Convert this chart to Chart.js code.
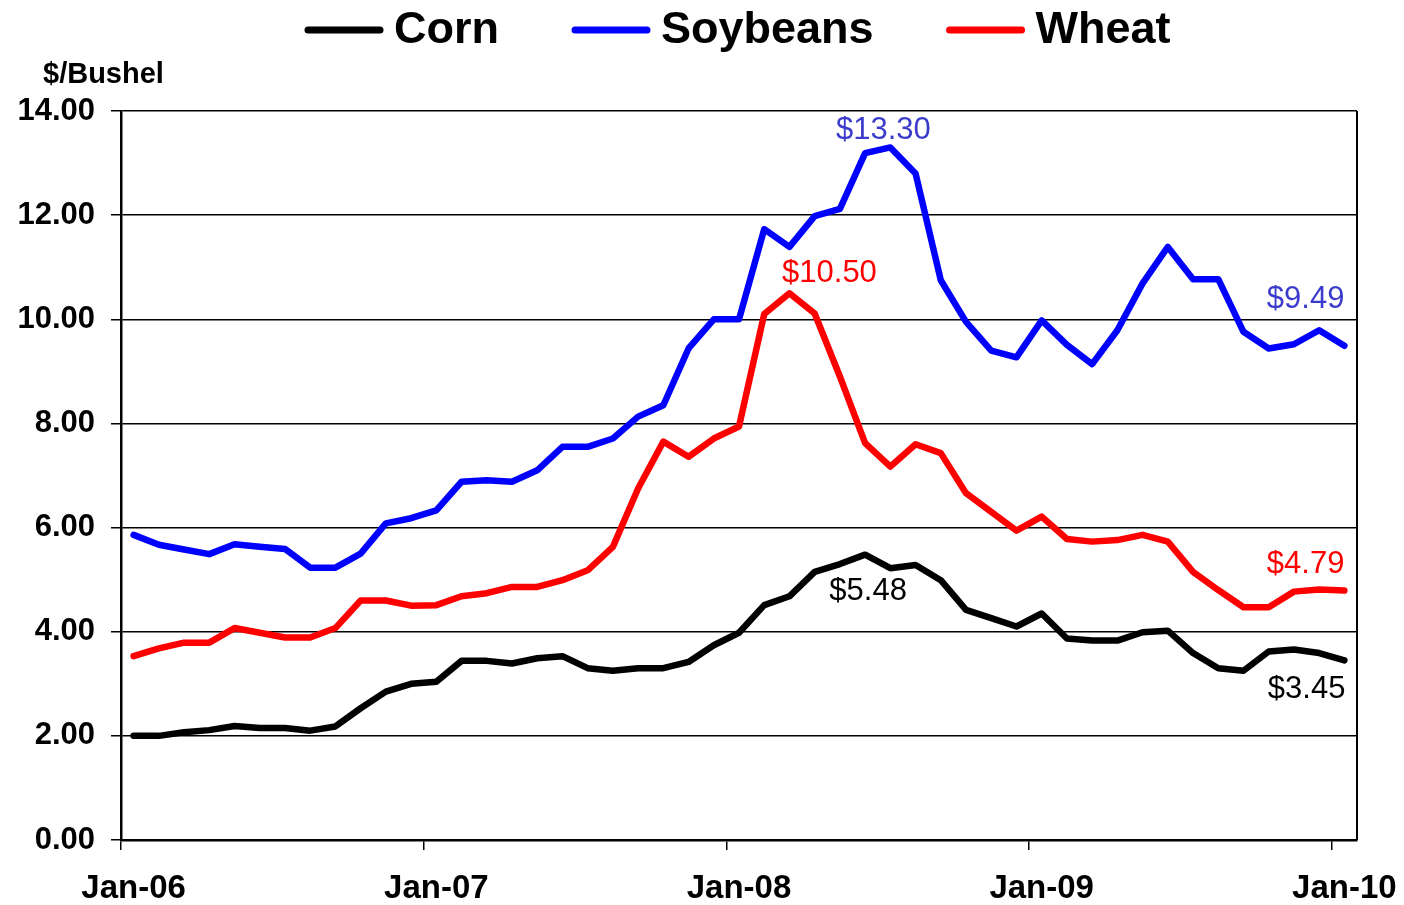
<!DOCTYPE html>
<html>
<head>
<meta charset="utf-8">
<script src="https://cdn.jsdelivr.net/npm/chart.js@4"></script>
<style>
  body { margin: 0; background: #fff; }
  canvas { display: block; }
</style>
</head>
<body>
<canvas id="priceChart" width="1404" height="905"></canvas>
<script>
// Monthly prices, Jan-06 .. Jan-10 ($/bushel)
const months = ['Jan', 'Feb', 'Mar', 'Apr', 'May', 'Jun', 'Jul', 'Aug', 'Sep', 'Oct', 'Nov', 'Dec'];
const years = ['06', '07', '08', '09', '10'];

const corn = [2.00, 2.00, 2.07, 2.11, 2.19, 2.15, 2.15, 2.10, 2.18, 2.53, 2.85, 3.00,
              3.04, 3.44, 3.44, 3.39, 3.49, 3.53, 3.30, 3.25, 3.30, 3.30, 3.42, 3.74,
              3.98, 4.51, 4.68, 5.15, 5.30, 5.48, 5.22, 5.28, 4.99, 4.42, 4.26, 4.10,
              4.35, 3.87, 3.83, 3.83, 3.99, 4.02, 3.59, 3.30, 3.25, 3.62, 3.66, 3.59,
              3.45];
const soybeans = [5.86, 5.67, 5.58, 5.49, 5.68, 5.63, 5.59, 5.23, 5.23, 5.50, 6.08, 6.18,
                  6.33, 6.88, 6.91, 6.88, 7.10, 7.55, 7.55, 7.71, 8.13, 8.35, 9.44, 10.00,
                  10.00, 11.73, 11.39, 11.98, 12.12, 13.19, 13.30, 12.80, 10.75, 9.95, 9.40, 9.27,
                  9.98, 9.51, 9.14, 9.79, 10.69, 11.39, 10.77, 10.77, 9.76, 9.44, 9.52, 9.79,
                  9.49];
const wheat = [3.53, 3.68, 3.79, 3.79, 4.07, 3.98, 3.89, 3.89, 4.07, 4.60, 4.60, 4.50,
               4.51, 4.68, 4.74, 4.86, 4.86, 4.99, 5.18, 5.63, 6.75, 7.65, 7.36, 7.71,
               7.94, 10.10, 10.50, 10.11, 8.90, 7.62, 7.17, 7.60, 7.43, 6.66, 6.30, 5.94,
               6.21, 5.78, 5.73, 5.76, 5.86, 5.73, 5.15, 4.80, 4.47, 4.47, 4.77, 4.81,
               4.79];

const yTicks = [0, 2, 4, 6, 8, 10, 12, 14];

// category labels Jan-06 ... Jan-10
const categories = [];
years.forEach(function(y, yi) {
    months.forEach(function(m) {
        if (yi < years.length - 1 || m === 'Jan') categories.push(m + '-' + y);
    });
});

const FONT = "'Liberation Sans', Arial, sans-serif";

// value callouts: dataset index, point index, colour, alignment and offset from the point
const callouts = [
    { ds: 1, i: 30, color: '#3c3ccc', align: 'center', dx: -7,  dy: -8 },
    { ds: 2, i: 26, color: '#ff0000', align: 'center', dx: 40,  dy: -11 },
    { ds: 1, i: 48, color: '#3c3ccc', align: 'right',  dx: 0,   dy: -38 },
    { ds: 2, i: 48, color: '#ff0000', align: 'right',  dx: 0,   dy: -18 },
    { ds: 0, i: 29, color: '#000000', align: 'center', dx: 3,   dy: 45 },
    { ds: 0, i: 48, color: '#000000', align: 'right',  dx: 1,   dy: 38 }
];

const decorPlugin = {
    id: 'decor',
    afterDraw: function(chart) {
        const ctx = chart.ctx;
        const area = chart.chartArea;
        ctx.save();

        // right frame line
        ctx.strokeStyle = '#000';
        ctx.lineWidth = 2;
        ctx.beginPath();
        ctx.moveTo(area.right, area.top);
        ctx.lineTo(area.right, area.bottom);
        ctx.stroke();

        // axis unit
        ctx.fillStyle = '#000';
        ctx.font = 'bold 29px ' + FONT;
        ctx.textAlign = 'left';
        ctx.textBaseline = 'middle';
        ctx.fillText('$/Bushel', 43, 75);

        // legend
        let x = 305;
        const ly = 30;
        ctx.font = 'bold 45px ' + FONT;
        chart.data.datasets.forEach(function(ds) {
            ctx.strokeStyle = ds.borderColor;
            ctx.lineWidth = 7;
            ctx.lineCap = 'round';
            ctx.beginPath();
            ctx.moveTo(x + 3, ly);
            ctx.lineTo(x + 75, ly);
            ctx.stroke();
            x += 89;
            ctx.fillStyle = '#000';
            ctx.fillText(ds.label, x, ly + 1);
            x += ctx.measureText(ds.label).width + 73;
        });

        // value callouts
        const xs = chart.scales.x, ys = chart.scales.y;
        ctx.font = '31px ' + FONT;
        ctx.textBaseline = 'alphabetic';
        callouts.forEach(function(c) {
            const v = chart.data.datasets[c.ds].data[c.i];
            const px = xs.getPixelForValue(c.i);
            const py = ys.getPixelForValue(v);
            ctx.fillStyle = c.color;
            ctx.textAlign = c.align;
            ctx.fillText('$' + v.toFixed(2), px + c.dx, py + c.dy);
        });
        ctx.restore();
    }
};

const ctx = document.getElementById('priceChart').getContext('2d');
const priceChart = new Chart(ctx, {
    type: 'line',
    data: {
        labels: categories,
        datasets: [
            { label: 'Corn', data: corn, borderColor: '#000000' },
            { label: 'Soybeans', data: soybeans, borderColor: '#0000ff' },
            { label: 'Wheat', data: wheat, borderColor: '#ff0000' }
        ]
    },
    options: {
        responsive: false,
        animation: false,
        layout: { padding: { top: 111, right: 47, bottom: 0, left: 0 } },
        elements: {
            line: { borderWidth: 6.5, tension: 0, borderJoinStyle: 'round', borderCapStyle: 'round', fill: false },
            point: { radius: 0, hoverRadius: 0 }
        },
        plugins: {
            legend: { display: false },
            tooltip: { enabled: false }
        },
        scales: {
            x: {
                offset: true,
                grid: {
                    offset: true,
                    drawOnChartArea: false,
                    tickLength: 10,
                    lineWidth: 1.5,
                    color: function(c) { return c.index % 12 === 0 ? '#000' : 'rgba(0,0,0,0)'; }
                },
                border: { display: true, color: '#000', width: 2.5 },
                ticks: {
                    autoSkip: false,
                    maxRotation: 0,
                    padding: 19,
                    color: '#000',
                    font: { family: FONT, size: 33, weight: 'bold' },
                    callback: function(val, i) { return i % 12 === 0 ? categories[i] : ''; }
                },
                afterFit: function(scale) {
                    scale.height = 65;
                    scale.paddingLeft = 0;
                    scale.paddingRight = 0;
                }
            },
            y: {
                min: 0,
                max: 14,
                afterBuildTicks: function(scale) {
                    scale.ticks = yTicks.map(function(v) { return { value: v }; });
                },
                grid: { color: '#000', lineWidth: 1.5, tickLength: 10 },
                border: { display: true, color: '#000', width: 2.5 },
                ticks: {
                    padding: 16,
                    color: '#000',
                    font: { family: FONT, size: 31, weight: 'bold' },
                    callback: function(v) { return v.toFixed(2); }
                },
                afterFit: function(scale) { scale.width = 121; }
            }
        }
    },
    plugins: [decorPlugin]
});
</script>
</body>
</html>
